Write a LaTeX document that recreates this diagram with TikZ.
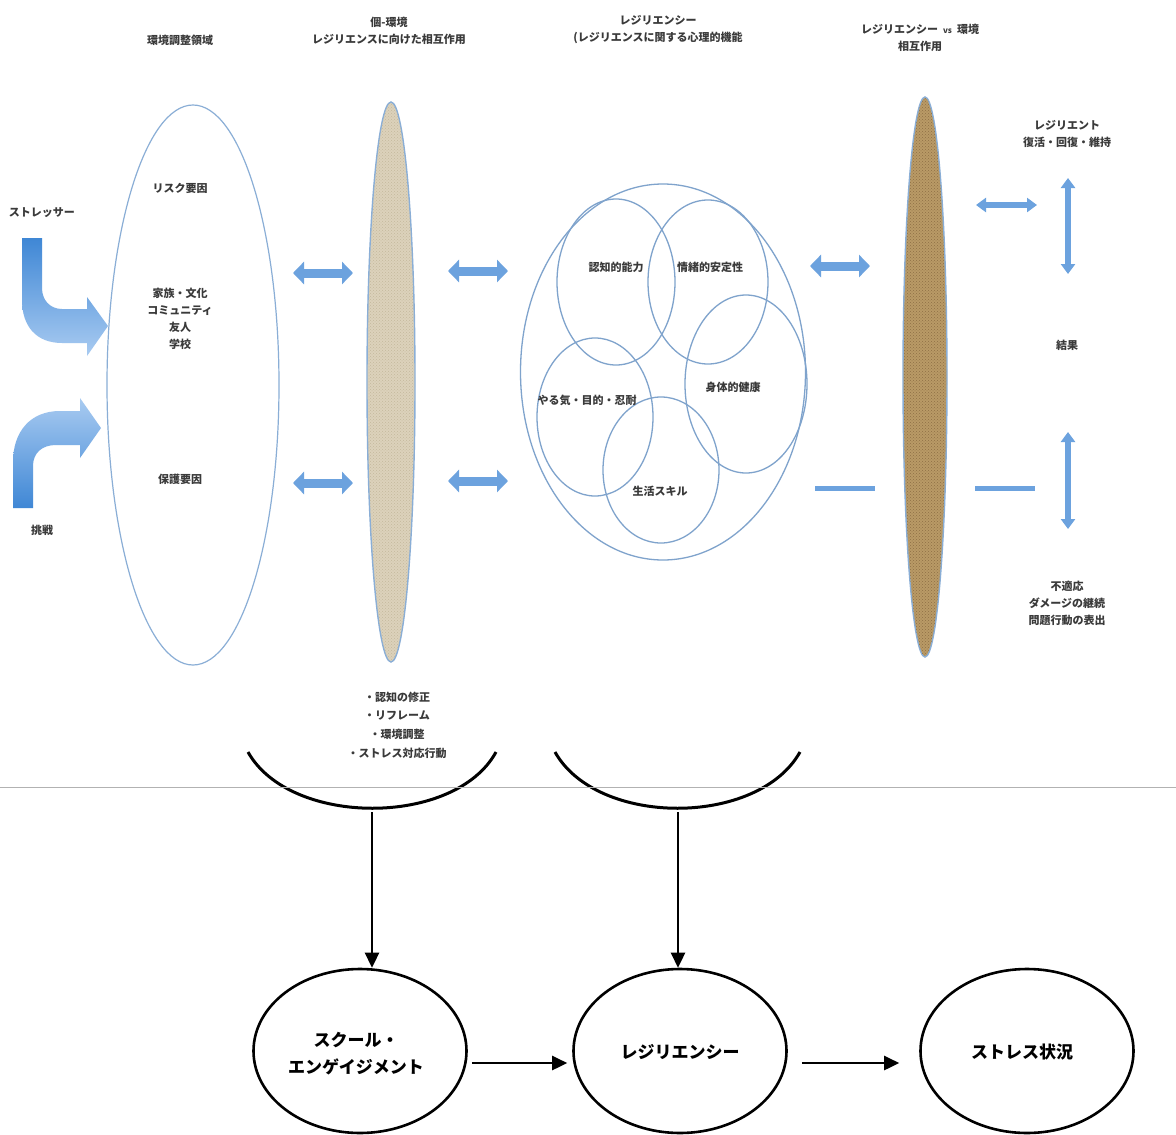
\documentclass[tikz,border=0pt]{standalone}
\usepackage{fontspec}
\setmainfont{Noto Sans CJK JP}
\usetikzlibrary{arrows.meta,shapes.geometric,patterns,calc}
\definecolor{ebl}{HTML}{8AAED6}
\definecolor{cbl}{HTML}{7FA3CC}
\definecolor{arrblue}{HTML}{6CA2DE}
\definecolor{darkblue}{HTML}{3F87D5}
\definecolor{lightblue}{HTML}{A9CBF1}
\definecolor{txt}{HTML}{3A3A3A}
\definecolor{beige}{HTML}{DCD2BB}
\definecolor{beigedk}{HTML}{C4B89C}
\definecolor{tan}{HTML}{B99A66}
\definecolor{tandk}{HTML}{8E6F45}
\begin{document}
\begin{tikzpicture}[x=1pt,y=-1pt,
  lbl/.style={text=txt,font=\fontsize{11pt}{17pt}\selectfont\bfseries,align=center,inner sep=0pt},
  big/.style={text=black,font=\fontsize{17pt}{27pt}\selectfont\bfseries,align=center,inner sep=0pt},
  thinell/.style={ellipse,draw=ebl,line width=1.2pt,inner sep=0pt,outer sep=0pt},
  circ/.style={ellipse,draw=cbl,line width=1.3pt,inner sep=0pt,outer sep=0pt},
  lens/.style={ellipse,draw=ebl,line width=1.4pt,inner sep=0pt,outer sep=0pt},
  bell/.style={ellipse,draw=black,line width=2.6pt,minimum width=213pt,minimum height=164pt,inner sep=0pt},
  dbl/.style={line width=9pt,draw=arrblue,arrows={Triangle[width=22pt,length=11pt]-Triangle[width=22pt,length=11pt]}},
  dbls/.style={line width=6pt,draw=arrblue,arrows={Triangle[width=14pt,length=10pt]-Triangle[width=14pt,length=10pt]}},
  bar/.style={line width=5pt,draw=arrblue},
  blk/.style={line width=2.6pt,draw=black,arrows={-Triangle[width=14pt,length=15pt]}},
  cup/.style={line width=3pt,draw=black}]
\useasboundingbox (0,0) rectangle (1176,1135);
\fill[white] (0,0) rectangle (1176,1135);

% headers
\node[lbl] (h1) at (180,40) {環境調整領域};
\node[lbl] (h2) at (389,31) {個-環境\\レジリエンスに向けた相互作用};
\node[lbl] (h3) at (658,30) {レジリエンシー\\(レジリエンスに関する心理的機能};
\node[lbl] (h4) at (920,38) {レジリエンシー\ \ {\fontsize{8pt}{10pt}\selectfont vs}\ \ 環境\\相互作用};

% left ellipse
\node[thinell,minimum width=172pt,minimum height=560pt] (env) at (193,385) {};
\node[lbl] (risk) at (180,188) {リスク要因};
\node[lbl] (fam) at (180,319) {家族・文化\\コミュニティ\\友人\\学校};
\node[lbl] (prot) at (180,479) {保護要因};

% stressor arrows
\node[lbl] (str) at (42,213) {ストレッサー};
\node[lbl] (chl) at (42,530) {挑戦};
\shade[top color=darkblue,bottom color=lightblue]
  (22,238) -- (22,300) .. controls (22,326) and (36,343) .. (62,343) -- (87,343) -- (87,356)
  -- (108,326) -- (87,297) -- (87,309) -- (62,309) .. controls (50,309) and (42,300) .. (42,288)
  -- (42,238) -- cycle;
\shade[top color=lightblue,bottom color=darkblue]
  (13,508) -- (13,462) .. controls (13,432) and (30,411) .. (60,411) -- (80,411) -- (80,398)
  -- (101,428) -- (80,458) -- (80,445) -- (56,445) .. controls (42,445) and (33,453) .. (33,466)
  -- (33,508) -- cycle;

% lens 1
\node[lens,minimum width=48pt,minimum height=560pt,fill=beige] (lens1) at (391,382) {};
\fill[pattern=crosshatch dots,pattern color=beigedk] (lens1.center) ellipse [x radius=23pt,y radius=279pt];

% lens 2
\node[lens,minimum width=44pt,minimum height=560pt,fill=tan] (lens2) at (925,377) {};
\fill[pattern=crosshatch dots,pattern color=tandk] (lens2.center) ellipse [x radius=21pt,y radius=279pt];

% resilience circle
\node[circ,minimum width=285pt,minimum height=376pt] (res) at (663,372) {};
\node[circ,minimum width=118pt,minimum height=166pt] (c1) at (616,282) {};
\node[circ,minimum width=120pt,minimum height=164pt] (c2) at (708,282) {};
\node[circ,minimum width=122pt,minimum height=178pt] (c3) at (746,384) {};
\node[circ,minimum width=116pt,minimum height=158pt] (c4) at (595,417) {};
\node[circ,minimum width=116pt,minimum height=146pt] (c5) at (661,470) {};
\node[lbl] (t1) at (616,267) {認知的能力};
\node[lbl] (t2) at (710,267) {情緒的安定性};
\node[lbl] (t3) at (733,387) {身体的健康};
\node[lbl] (t4) at (587,400) {やる気・目的・忍耐};
\node[lbl] (t5) at (660,491) {生活スキル};

% double arrows
\coordinate (d1a) at (293,273); \coordinate (d1b) at (353,273);
\coordinate (d2a) at (293,483); \coordinate (d2b) at (353,483);
\coordinate (d3a) at (448,271); \coordinate (d3b) at (508,271);
\coordinate (d4a) at (448,481); \coordinate (d4b) at (508,481);
\coordinate (d5a) at (810,266); \coordinate (d5b) at (870,266);
\coordinate (b1a) at (815,488); \coordinate (b1b) at (875,488);
\coordinate (d6a) at (976,205); \coordinate (d6b) at (1037,205);
\coordinate (b2a) at (975,488); \coordinate (b2b) at (1035,488);
\coordinate (v1a) at (1068,178); \coordinate (v1b) at (1068,274);
\coordinate (v2a) at (1068,432); \coordinate (v2b) at (1068,529);
\draw[dbl] (d1a) -- (d1b);
\draw[dbl] (d2a) -- (d2b);
\draw[dbl] (d3a) -- (d3b);
\draw[dbl] (d4a) -- (d4b);
\draw[dbl] (d5a) -- (d5b);
\draw[bar] (b1a) -- (b1b);
\draw[dbls] (d6a) -- (d6b);
\draw[bar] (b2a) -- (b2b);
\draw[dbls] (v1a) -- (v1b);
\draw[dbls] (v2a) -- (v2b);

% outcomes
\node[lbl] (o1) at (1067,134) {レジリエント\\復活・回復・維持};
\node[lbl] (o2) at (1067,345) {結果};
\node[lbl] (o3) at (1067,603) {不適応\\ダメージの継続\\問題行動の表出};

% list
\node[lbl,font=\fontsize{11pt}{18.7pt}\selectfont\bfseries] (lst) at (397,725) {・認知の修正\\・リフレーム\\・環境調整\\・ストレス対応行動};

% cups
\draw[cup] (248,752) .. controls (290,827) and (455,827) .. (496,752);
\draw[cup] (555,752) .. controls (597,827) and (758,827) .. (800,752);

% separator
\draw[gray!60,line width=0.8pt] (0,787) -- (1176,787);

% bottom ellipses
\node[bell] (e1) at (360,1051) {};
\node[bell] (e2) at (680,1051) {};
\node[bell] (e3) at (1027,1051) {};
\node[big] (et1) at (356,1054) {スクール・\\エンゲイジメント};
\node[big] (et2) at (680,1052) {レジリエンシー};
\node[big] (et3) at (1022,1052) {ストレス状況};

\coordinate (a1) at (372,812);
\coordinate (a2) at (678,812);
\draw[blk] (a1) -- (a1 |- e1.north);
\draw[blk] (a2) -- (a2 |- e2.north);
\draw[blk] ($(e1.east)+(4,12)$) -- ($(e2.west)+(-5,12)$);
\draw[blk] ($(e2.east)+(14,12)$) -- ($(e3.west)+(-20,12)$);
\end{tikzpicture}
\end{document}
